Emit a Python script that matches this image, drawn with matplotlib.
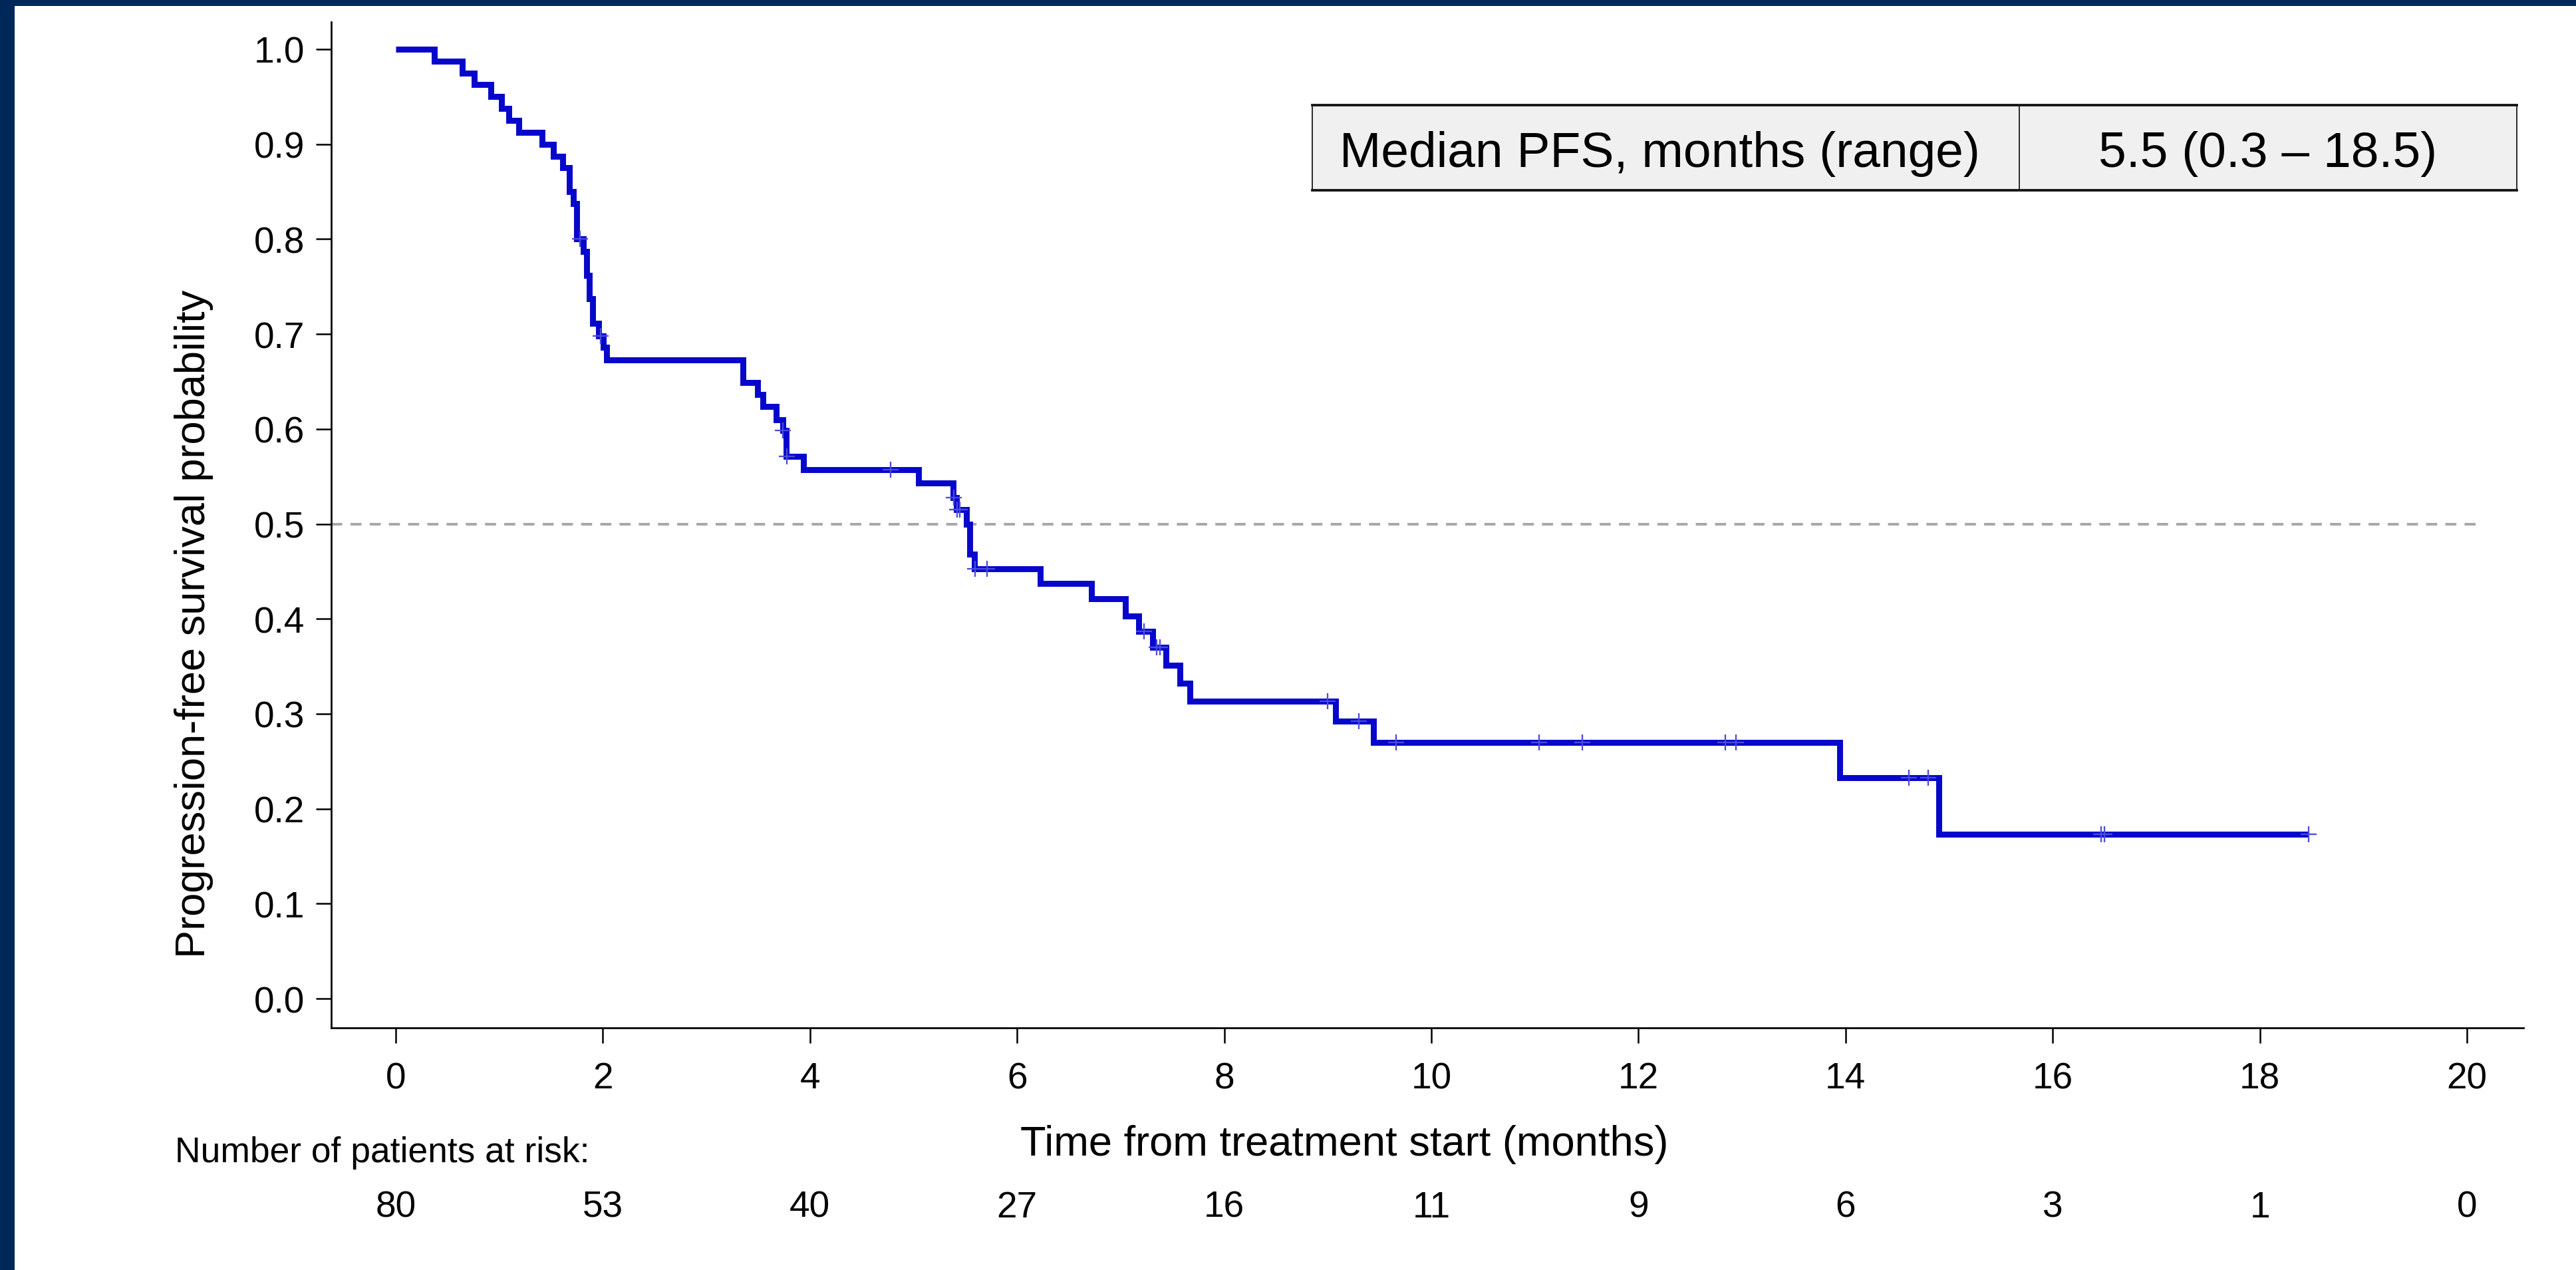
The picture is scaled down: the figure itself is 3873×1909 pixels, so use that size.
import numpy as np
import matplotlib
matplotlib.use('Agg')
import matplotlib.pyplot as plt
from matplotlib.patches import Rectangle
from matplotlib.lines import Line2D
import matplotlib.transforms as mtransforms

plt.rcParams['font.family'] = ['Liberation Sans', 'DejaVu Sans']

# Kaplan-Meier steps (months, survival after step)
event_t = [0, 0.37, 0.64, 0.756, 0.92, 1.02, 1.09, 1.19, 1.415, 1.524,
           1.61, 1.678, 1.715, 1.745, 1.809, 1.843, 1.871, 1.901, 1.961, 2.004,
           2.034, 3.351, 3.496, 3.543, 3.672, 3.735, 3.77, 3.935, 5.048, 5.385,
           5.415, 5.511, 5.545, 5.59, 6.224, 6.717, 7.046, 7.174, 7.311, 7.44,
           7.572, 7.67, 9.077, 9.441, 13.945, 14.903]
surv = [1.0, 0.9875, 0.975, 0.9625, 0.95, 0.9375, 0.925, 0.9125, 0.90, 0.8875,
        0.875, 0.85, 0.8375, 0.80, 0.787, 0.762, 0.737, 0.711, 0.698, 0.686,
        0.673, 0.649, 0.636, 0.624, 0.610, 0.5985, 0.571, 0.557, 0.543, 0.528,
        0.515, 0.4997, 0.468, 0.453, 0.437, 0.421, 0.403, 0.387, 0.370, 0.351,
        0.332, 0.313, 0.292, 0.270, 0.233, 0.173]
last_t = 18.47

# censored observations
cens_t = [1.78, 1.98, 3.74, 3.775, 4.78, 5.39, 5.42, 5.445, 5.595, 5.71,
          7.225, 7.35, 7.38, 9.0, 9.3, 9.66, 11.04, 11.455, 12.84, 12.94,
          14.61, 14.8, 16.465, 16.5, 18.47]

# number at risk
risk_t = [0, 2, 4, 6, 8, 10, 12, 14, 16, 18, 20]
risk_n = [80, 53, 40, 27, 16, 11, 9, 6, 3, 1, 0]

table_cells = ['Median PFS, months (range)', '5.5 (0.3 \u2013 18.5)']

W, H = 3873, 1910
fig = plt.figure(figsize=(W / 300, H / 300), dpi=300)
fig.patch.set_facecolor('white')

ax = fig.add_axes([498 / W, 1 - 1546 / H, (3794 - 498) / W, (1546 - 34) / H])

blue = '#0707cc'
xs = event_t + [last_t]
ys = surv + [surv[-1]]
ax.step(xs, ys, where='post', color=blue, lw=2.15,
        solid_joinstyle='miter', solid_capstyle='butt', zorder=3)

idx = np.searchsorted(event_t, cens_t, side='right') - 1
cens_s = np.array(surv)[idx]
ax.plot(cens_t, cens_s, ls='none', marker='+', ms=5.8, mew=0.55,
        color='#4b4bdd', zorder=4)

ax.plot([-0.623, 20.15], [0.5, 0.5], color='#a8a8a8', lw=0.95,
        dashes=(4.2, 3.1), zorder=1)

ax.set_xlim(-0.623, 20.546)
ax.set_ylim(-0.0308, 1.0287)
ax.set_xticks(np.arange(0, 21, 2))
ax.set_yticks(np.arange(0, 1.01, 0.1))
ax.set_yticklabels(['%.1f' % v for v in np.arange(0, 1.01, 0.1)])
for s in ['top', 'right']:
    ax.spines[s].set_visible(False)
for s in ['left', 'bottom']:
    ax.spines[s].set_linewidth(0.65)
ax.tick_params(axis='both', direction='out', length=5.6, width=0.6,
               labelsize=13.2, colors='black')
ax.tick_params(axis='x', pad=6.5)
ax.tick_params(axis='y', pad=4.0)

# axis titles
fig.text(292 / W, 1 - 938 / H, 'Progression-free survival probability',
         rotation=90, ha='center', va='center', fontsize=15.2)
fig.text(2021 / W, 1 - 1737 / H, 'Time from treatment start (months)',
         ha='center', va='baseline', fontsize=15.2)

# risk table
fig.text(263 / W, 1 - 1747 / H, 'Number of patients at risk:',
         ha='left', va='baseline', fontsize=12.8)
tr = mtransforms.blended_transform_factory(ax.transData, fig.transFigure)
for t, n in zip(risk_t, risk_n):
    ax.text(t, 1 - 1830 / H, str(n), transform=tr, ha='center',
            va='baseline', fontsize=13.2, clip_on=False)

# median box
x0, xm, x1 = 1973 / W, 3036 / W, 3784 / W
yb, yt = 1 - 287 / H, 1 - 159 / H
fig.add_artist(Rectangle((x0, yb), x1 - x0, yt - yb, transform=fig.transFigure,
                         facecolor='#f0f0f0', edgecolor='#222222', lw=0.45))
fig.add_artist(Line2D([x0, x1], [yt, yt], transform=fig.transFigure,
                      color='#111111', lw=0.9))
fig.add_artist(Line2D([x0, x1], [yb, yb], transform=fig.transFigure,
                      color='#111111', lw=0.9))
fig.add_artist(Line2D([xm, xm], [yb, yt], transform=fig.transFigure,
                      color='#222222', lw=0.45))
fig.text((x0 + xm) / 2 - 9 / W, 1 - 251 / H, table_cells[0], ha='center',
         va='baseline', fontsize=18)
fig.text((xm + x1) / 2, 1 - 251 / H, table_cells[1], ha='center',
         va='baseline', fontsize=18)

# navy frame on top and left edges
navy = '#00275a'
fig.add_artist(Rectangle((0, 1 - 10 / H), 1, 10 / H, transform=fig.transFigure,
                         facecolor=navy, edgecolor='none'))
fig.add_artist(Rectangle((0, 0), 22 / W, 1, transform=fig.transFigure,
                         facecolor=navy, edgecolor='none'))

fig.savefig('out.png', dpi=300)
